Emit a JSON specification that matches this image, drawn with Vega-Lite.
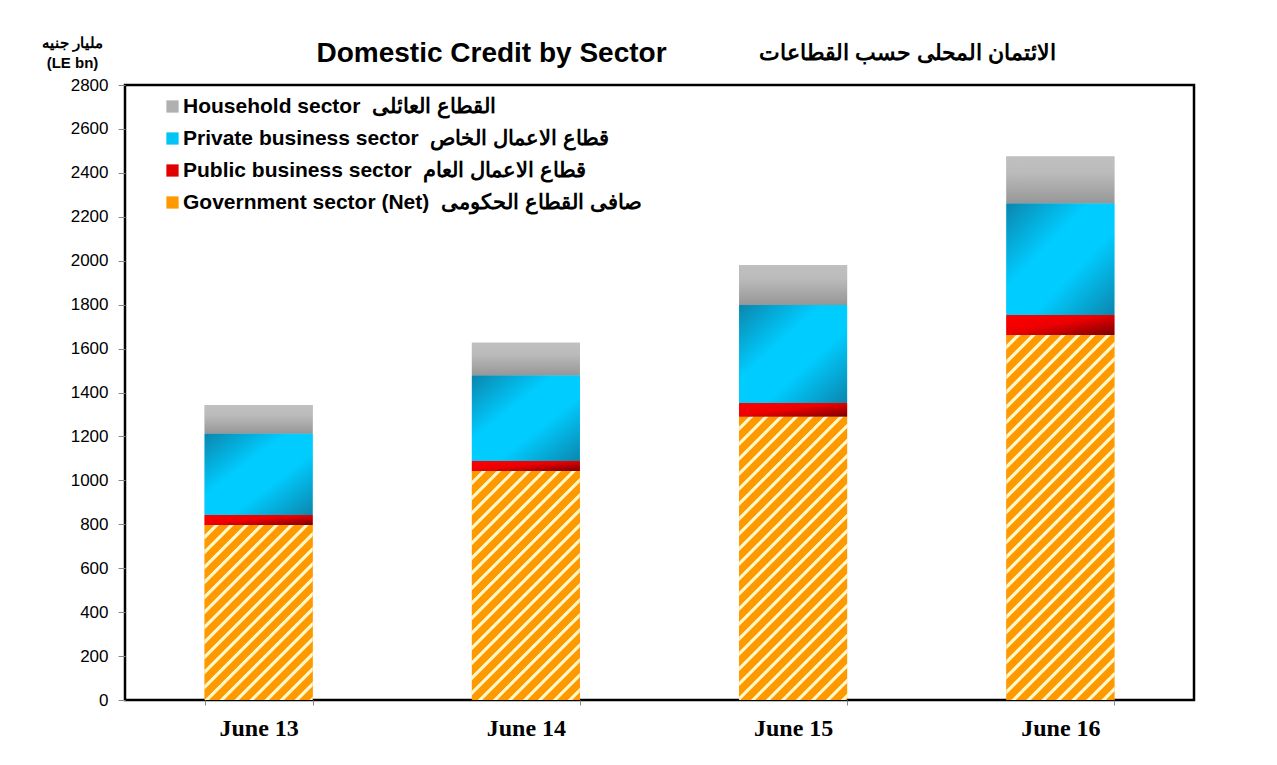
{
  "$schema": "https://vega.github.io/schema/vega-lite/v6.json",
  "autosize": {"type": "none"},
  "width": 1069,
  "height": 615,
  "padding": {"left": 125, "top": 85, "right": 83, "bottom": 65},
  "background": "#ffffff",
  "config": {
    "view": {"stroke": "#000000", "strokeWidth": 2.5},
    "axis": {"grid": false, "domain": false}
  },
  "data": {
    "values": [
      {"year": "June 13", "sector": "Government", "order": 1, "value": 797},
      {"year": "June 13", "sector": "Public", "order": 2, "value": 45},
      {"year": "June 13", "sector": "Private", "order": 3, "value": 370},
      {"year": "June 13", "sector": "Household", "order": 4, "value": 131},
      {"year": "June 14", "sector": "Government", "order": 1, "value": 1043},
      {"year": "June 14", "sector": "Public", "order": 2, "value": 45},
      {"year": "June 14", "sector": "Private", "order": 3, "value": 389},
      {"year": "June 14", "sector": "Household", "order": 4, "value": 150},
      {"year": "June 15", "sector": "Government", "order": 1, "value": 1290},
      {"year": "June 15", "sector": "Public", "order": 2, "value": 62},
      {"year": "June 15", "sector": "Private", "order": 3, "value": 446},
      {"year": "June 15", "sector": "Household", "order": 4, "value": 183},
      {"year": "June 16", "sector": "Government", "order": 1, "value": 1662},
      {"year": "June 16", "sector": "Public", "order": 2, "value": 91},
      {"year": "June 16", "sector": "Private", "order": 3, "value": 507},
      {"year": "June 16", "sector": "Household", "order": 4, "value": 214}
    ]
  },
  "transform": [
    {"stack": "value", "groupby": ["year"], "sort": [{"field": "order", "order": "ascending"}], "as": ["v0", "v1"]}
  ],
  "resolve": {"axis": {"x": "independent", "y": "independent"}},
  "layer": [
    {
      "mark": {"type": "bar"},
      "encoding": {
        "x": {
          "field": "year", "type": "nominal",
          "scale": {"paddingInner": 0.596, "paddingOuter": 0.298},
          "axis": {"orient": "bottom", "title": null, "labelAngle": 0, "labelFont": "Liberation Serif", "labelFontSize": 24, "labelFontWeight": "bold", "labelColor": "#000000", "labelBaseline": "alphabetic", "labelPadding": 30, "tickBand": "extent", "ticks": true, "tickSize": 5, "tickColor": "#888888", "domain": false}
        },
        "y": {
          "field": "v0", "type": "quantitative",
          "scale": {"domain": [0, 2800], "nice": false},
          "axis": {"values": [0, 200, 400, 600, 800, 1000, 1200, 1400, 1600, 1800, 2000, 2200, 2400, 2600, 2800], "format": "d", "title": ["مليار جنيه", "(LE bn)"], "titleAngle": 0, "titleAlign": "center", "titleBaseline": "alphabetic", "titleX": -53, "titleY": -38, "titleFont": "Liberation Sans", "titleFontSize": 15, "titleFontWeight": "bold", "titleLineHeight": 20, "titleColor": "#000000", "labelFont": "Liberation Sans", "labelFontSize": 17, "labelColor": "#000000", "labelPadding": 10, "tickSize": 7, "tickColor": "#888888", "domain": false, "grid": false}
        },
        "y2": {"field": "v1"},
        "color": {
          "field": "sector", "type": "nominal",
          "scale": {"domain": ["Household", "Private", "Public", "Government"], "range": ["#b0b0b0", "#00c4f5", "#e00000", "#ff9900"]},
          "legend": {
            "title": null, "orient": "none", "legendX": 37, "legendY": 11, "direction": "vertical",
            "symbolType": "square", "symbolSize": 150, "symbolStrokeWidth": 0,
            "labelFont": "Liberation Sans", "labelFontSize": 21, "labelFontWeight": "bold", "labelColor": "#000000",
            "labelOffset": 0, "rowPadding": 10, "padding": 0, "labelLimit": 0,
            "labelExpr": "datum.label === 'Household' ? 'Household sector\u00a0\u00a0\u202bالقطاع العائلى\u202c' : datum.label === 'Private' ? 'Private business sector\u00a0\u00a0\u202bقطاع الاعمال الخاص\u202c' : datum.label === 'Public' ? 'Public business sector\u00a0\u00a0\u202bقطاع الاعمال العام\u202c' : '\u202bصافى القطاع الحكومى\u00a0\u00a0\u202aGovernment sector (Net)\u202c\u202c'"
          }
        }
      }
    },
    {
      "transform": [{"filter": "datum.sector === 'Household'"}],
      "mark": {"type": "bar", "fill": {"gradient": "linear", "x1": 0, "y1": 0, "x2": 0, "y2": 1, "stops": [{"offset": 0, "color": "#c0c0c0"}, {"offset": 0.35, "color": "#bbbbbb"}, {"offset": 1, "color": "#969696"}]}},
      "encoding": {
        "x": {"field": "year", "type": "nominal", "axis": {"orient": "top", "title": "Domestic Credit by Sector", "labels": false, "ticks": false, "domain": false, "titleFont": "Liberation Sans", "titleFontSize": 28, "titleFontWeight": "bold", "titleColor": "#000000", "titleX": 366, "titleY": -24, "titleAlign": "center", "titleBaseline": "alphabetic"}},
        "y": {"field": "v0", "type": "quantitative", "axis": null},
        "y2": {"field": "v1"}
      }
    },
    {
      "transform": [{"filter": "datum.sector === 'Private'"}],
      "mark": {"type": "bar", "fill": {"gradient": "linear", "x1": 0, "y1": 0, "x2": 1, "y2": 1, "stops": [{"offset": 0, "color": "#0b86ad"}, {"offset": 0.38, "color": "#00ccff"}, {"offset": 0.62, "color": "#00ccff"}, {"offset": 1, "color": "#0b86ad"}]}},
      "encoding": {
        "x": {"field": "year", "type": "nominal", "axis": null},
        "y": {"field": "v0", "type": "quantitative", "axis": {"orient": "right", "title": "الائتمان المحلى حسب القطاعات", "labels": false, "ticks": false, "domain": false, "grid": false, "titleAngle": 0, "titleX": -287, "titleY": -26, "titleAlign": "center", "titleBaseline": "alphabetic", "titleFont": "Liberation Sans", "titleFontSize": 22, "titleFontWeight": "bold", "titleColor": "#000000"}},
        "y2": {"field": "v1"}
      }
    },
    {
      "transform": [{"filter": "datum.sector === 'Public'"}],
      "mark": {"type": "bar", "fill": {"gradient": "linear", "x1": 0, "y1": 0, "x2": 1, "y2": 1, "stops": [{"offset": 0, "color": "#ff0000"}, {"offset": 0.45, "color": "#ee0000"}, {"offset": 1, "color": "#7a0000"}]}},
      "encoding": {
        "x": {"field": "year", "type": "nominal", "axis": null},
        "y": {"field": "v0", "type": "quantitative", "axis": null},
        "y2": {"field": "v1"}
      }
    },
    {
      "transform": [{"filter": "datum.sector === 'Government' && datum.year === 'June 13'"}],
      "mark": {"type": "bar", "fill": {"gradient": "linear", "x1": 0, "y1": 0, "x2": 1.2251, "y2": 1.9859, "stops": [{"offset":0,"color":"#ff9900"},{"offset":0.01938,"color":"#ff9900"},{"offset":0.02188,"color":"#fff8c8"},{"offset":0.02875,"color":"#fff8c8"},{"offset":0.03125,"color":"#ff9900"},{"offset":0.05063,"color":"#ff9900"},{"offset":0.05313,"color":"#fff8c8"},{"offset":0.06,"color":"#fff8c8"},{"offset":0.0625,"color":"#ff9900"},{"offset":0.08188,"color":"#ff9900"},{"offset":0.08438,"color":"#fff8c8"},{"offset":0.09125,"color":"#fff8c8"},{"offset":0.09375,"color":"#ff9900"},{"offset":0.11313,"color":"#ff9900"},{"offset":0.11563,"color":"#fff8c8"},{"offset":0.1225,"color":"#fff8c8"},{"offset":0.125,"color":"#ff9900"},{"offset":0.14438,"color":"#ff9900"},{"offset":0.14688,"color":"#fff8c8"},{"offset":0.15375,"color":"#fff8c8"},{"offset":0.15625,"color":"#ff9900"},{"offset":0.17563,"color":"#ff9900"},{"offset":0.17813,"color":"#fff8c8"},{"offset":0.185,"color":"#fff8c8"},{"offset":0.1875,"color":"#ff9900"},{"offset":0.20688,"color":"#ff9900"},{"offset":0.20938,"color":"#fff8c8"},{"offset":0.21625,"color":"#fff8c8"},{"offset":0.21875,"color":"#ff9900"},{"offset":0.23813,"color":"#ff9900"},{"offset":0.24063,"color":"#fff8c8"},{"offset":0.2475,"color":"#fff8c8"},{"offset":0.25,"color":"#ff9900"},{"offset":0.26938,"color":"#ff9900"},{"offset":0.27188,"color":"#fff8c8"},{"offset":0.27875,"color":"#fff8c8"},{"offset":0.28125,"color":"#ff9900"},{"offset":0.30063,"color":"#ff9900"},{"offset":0.30313,"color":"#fff8c8"},{"offset":0.31,"color":"#fff8c8"},{"offset":0.3125,"color":"#ff9900"},{"offset":0.33188,"color":"#ff9900"},{"offset":0.33438,"color":"#fff8c8"},{"offset":0.34125,"color":"#fff8c8"},{"offset":0.34375,"color":"#ff9900"},{"offset":0.36313,"color":"#ff9900"},{"offset":0.36563,"color":"#fff8c8"},{"offset":0.3725,"color":"#fff8c8"},{"offset":0.375,"color":"#ff9900"},{"offset":0.39438,"color":"#ff9900"},{"offset":0.39688,"color":"#fff8c8"},{"offset":0.40375,"color":"#fff8c8"},{"offset":0.40625,"color":"#ff9900"},{"offset":0.42563,"color":"#ff9900"},{"offset":0.42813,"color":"#fff8c8"},{"offset":0.435,"color":"#fff8c8"},{"offset":0.4375,"color":"#ff9900"},{"offset":0.45688,"color":"#ff9900"},{"offset":0.45938,"color":"#fff8c8"},{"offset":0.46625,"color":"#fff8c8"},{"offset":0.46875,"color":"#ff9900"},{"offset":0.48813,"color":"#ff9900"},{"offset":0.49063,"color":"#fff8c8"},{"offset":0.4975,"color":"#fff8c8"},{"offset":0.5,"color":"#ff9900"},{"offset":0.51938,"color":"#ff9900"},{"offset":0.52188,"color":"#fff8c8"},{"offset":0.52875,"color":"#fff8c8"},{"offset":0.53125,"color":"#ff9900"},{"offset":0.55063,"color":"#ff9900"},{"offset":0.55313,"color":"#fff8c8"},{"offset":0.56,"color":"#fff8c8"},{"offset":0.5625,"color":"#ff9900"},{"offset":0.58188,"color":"#ff9900"},{"offset":0.58438,"color":"#fff8c8"},{"offset":0.59125,"color":"#fff8c8"},{"offset":0.59375,"color":"#ff9900"},{"offset":0.61313,"color":"#ff9900"},{"offset":0.61563,"color":"#fff8c8"},{"offset":0.6225,"color":"#fff8c8"},{"offset":0.625,"color":"#ff9900"},{"offset":0.64438,"color":"#ff9900"},{"offset":0.64688,"color":"#fff8c8"},{"offset":0.65375,"color":"#fff8c8"},{"offset":0.65625,"color":"#ff9900"},{"offset":0.67563,"color":"#ff9900"},{"offset":0.67813,"color":"#fff8c8"},{"offset":0.685,"color":"#fff8c8"},{"offset":0.6875,"color":"#ff9900"},{"offset":0.70688,"color":"#ff9900"},{"offset":0.70938,"color":"#fff8c8"},{"offset":0.71625,"color":"#fff8c8"},{"offset":0.71875,"color":"#ff9900"},{"offset":0.73813,"color":"#ff9900"},{"offset":0.74063,"color":"#fff8c8"},{"offset":0.7475,"color":"#fff8c8"},{"offset":0.75,"color":"#ff9900"},{"offset":0.76938,"color":"#ff9900"},{"offset":0.77188,"color":"#fff8c8"},{"offset":0.77875,"color":"#fff8c8"},{"offset":0.78125,"color":"#ff9900"},{"offset":0.80063,"color":"#ff9900"},{"offset":0.80313,"color":"#fff8c8"},{"offset":0.81,"color":"#fff8c8"},{"offset":0.8125,"color":"#ff9900"},{"offset":0.83188,"color":"#ff9900"},{"offset":0.83438,"color":"#fff8c8"},{"offset":0.84125,"color":"#fff8c8"},{"offset":0.84375,"color":"#ff9900"},{"offset":0.86313,"color":"#ff9900"},{"offset":0.86563,"color":"#fff8c8"},{"offset":0.8725,"color":"#fff8c8"},{"offset":0.875,"color":"#ff9900"},{"offset":0.89438,"color":"#ff9900"},{"offset":0.89688,"color":"#fff8c8"},{"offset":0.90375,"color":"#fff8c8"},{"offset":0.90625,"color":"#ff9900"},{"offset":0.92563,"color":"#ff9900"},{"offset":0.92813,"color":"#fff8c8"},{"offset":0.935,"color":"#fff8c8"},{"offset":0.9375,"color":"#ff9900"},{"offset":0.95688,"color":"#ff9900"},{"offset":0.95938,"color":"#fff8c8"},{"offset":0.96625,"color":"#fff8c8"},{"offset":0.96875,"color":"#ff9900"},{"offset":0.98813,"color":"#ff9900"},{"offset":0.99063,"color":"#fff8c8"},{"offset":0.9975,"color":"#fff8c8"},{"offset":1,"color":"#ff9900"}]}},
      "encoding": {
        "x": {"field": "year", "type": "nominal", "axis": null},
        "y": {"field": "v0", "type": "quantitative", "axis": null},
        "y2": {"field": "v1"}
      }
    },
    {
      "transform": [{"filter": "datum.sector === 'Government' && datum.year === 'June 14'"}],
      "mark": {"type": "bar", "fill": {"gradient": "linear", "x1": 0, "y1": 0, "x2": 0.8081, "y2": 1.714, "stops": [{"offset":0,"color":"#ff9900"},{"offset":0.01938,"color":"#ff9900"},{"offset":0.02188,"color":"#fff8c8"},{"offset":0.02875,"color":"#fff8c8"},{"offset":0.03125,"color":"#ff9900"},{"offset":0.05063,"color":"#ff9900"},{"offset":0.05313,"color":"#fff8c8"},{"offset":0.06,"color":"#fff8c8"},{"offset":0.0625,"color":"#ff9900"},{"offset":0.08188,"color":"#ff9900"},{"offset":0.08438,"color":"#fff8c8"},{"offset":0.09125,"color":"#fff8c8"},{"offset":0.09375,"color":"#ff9900"},{"offset":0.11313,"color":"#ff9900"},{"offset":0.11563,"color":"#fff8c8"},{"offset":0.1225,"color":"#fff8c8"},{"offset":0.125,"color":"#ff9900"},{"offset":0.14438,"color":"#ff9900"},{"offset":0.14688,"color":"#fff8c8"},{"offset":0.15375,"color":"#fff8c8"},{"offset":0.15625,"color":"#ff9900"},{"offset":0.17563,"color":"#ff9900"},{"offset":0.17813,"color":"#fff8c8"},{"offset":0.185,"color":"#fff8c8"},{"offset":0.1875,"color":"#ff9900"},{"offset":0.20688,"color":"#ff9900"},{"offset":0.20938,"color":"#fff8c8"},{"offset":0.21625,"color":"#fff8c8"},{"offset":0.21875,"color":"#ff9900"},{"offset":0.23813,"color":"#ff9900"},{"offset":0.24063,"color":"#fff8c8"},{"offset":0.2475,"color":"#fff8c8"},{"offset":0.25,"color":"#ff9900"},{"offset":0.26938,"color":"#ff9900"},{"offset":0.27188,"color":"#fff8c8"},{"offset":0.27875,"color":"#fff8c8"},{"offset":0.28125,"color":"#ff9900"},{"offset":0.30063,"color":"#ff9900"},{"offset":0.30313,"color":"#fff8c8"},{"offset":0.31,"color":"#fff8c8"},{"offset":0.3125,"color":"#ff9900"},{"offset":0.33188,"color":"#ff9900"},{"offset":0.33438,"color":"#fff8c8"},{"offset":0.34125,"color":"#fff8c8"},{"offset":0.34375,"color":"#ff9900"},{"offset":0.36313,"color":"#ff9900"},{"offset":0.36563,"color":"#fff8c8"},{"offset":0.3725,"color":"#fff8c8"},{"offset":0.375,"color":"#ff9900"},{"offset":0.39438,"color":"#ff9900"},{"offset":0.39688,"color":"#fff8c8"},{"offset":0.40375,"color":"#fff8c8"},{"offset":0.40625,"color":"#ff9900"},{"offset":0.42563,"color":"#ff9900"},{"offset":0.42813,"color":"#fff8c8"},{"offset":0.435,"color":"#fff8c8"},{"offset":0.4375,"color":"#ff9900"},{"offset":0.45688,"color":"#ff9900"},{"offset":0.45938,"color":"#fff8c8"},{"offset":0.46625,"color":"#fff8c8"},{"offset":0.46875,"color":"#ff9900"},{"offset":0.48813,"color":"#ff9900"},{"offset":0.49063,"color":"#fff8c8"},{"offset":0.4975,"color":"#fff8c8"},{"offset":0.5,"color":"#ff9900"},{"offset":0.51938,"color":"#ff9900"},{"offset":0.52188,"color":"#fff8c8"},{"offset":0.52875,"color":"#fff8c8"},{"offset":0.53125,"color":"#ff9900"},{"offset":0.55063,"color":"#ff9900"},{"offset":0.55313,"color":"#fff8c8"},{"offset":0.56,"color":"#fff8c8"},{"offset":0.5625,"color":"#ff9900"},{"offset":0.58188,"color":"#ff9900"},{"offset":0.58438,"color":"#fff8c8"},{"offset":0.59125,"color":"#fff8c8"},{"offset":0.59375,"color":"#ff9900"},{"offset":0.61313,"color":"#ff9900"},{"offset":0.61563,"color":"#fff8c8"},{"offset":0.6225,"color":"#fff8c8"},{"offset":0.625,"color":"#ff9900"},{"offset":0.64438,"color":"#ff9900"},{"offset":0.64688,"color":"#fff8c8"},{"offset":0.65375,"color":"#fff8c8"},{"offset":0.65625,"color":"#ff9900"},{"offset":0.67563,"color":"#ff9900"},{"offset":0.67813,"color":"#fff8c8"},{"offset":0.685,"color":"#fff8c8"},{"offset":0.6875,"color":"#ff9900"},{"offset":0.70688,"color":"#ff9900"},{"offset":0.70938,"color":"#fff8c8"},{"offset":0.71625,"color":"#fff8c8"},{"offset":0.71875,"color":"#ff9900"},{"offset":0.73813,"color":"#ff9900"},{"offset":0.74063,"color":"#fff8c8"},{"offset":0.7475,"color":"#fff8c8"},{"offset":0.75,"color":"#ff9900"},{"offset":0.76938,"color":"#ff9900"},{"offset":0.77188,"color":"#fff8c8"},{"offset":0.77875,"color":"#fff8c8"},{"offset":0.78125,"color":"#ff9900"},{"offset":0.80063,"color":"#ff9900"},{"offset":0.80313,"color":"#fff8c8"},{"offset":0.81,"color":"#fff8c8"},{"offset":0.8125,"color":"#ff9900"},{"offset":0.83188,"color":"#ff9900"},{"offset":0.83438,"color":"#fff8c8"},{"offset":0.84125,"color":"#fff8c8"},{"offset":0.84375,"color":"#ff9900"},{"offset":0.86313,"color":"#ff9900"},{"offset":0.86563,"color":"#fff8c8"},{"offset":0.8725,"color":"#fff8c8"},{"offset":0.875,"color":"#ff9900"},{"offset":0.89438,"color":"#ff9900"},{"offset":0.89688,"color":"#fff8c8"},{"offset":0.90375,"color":"#fff8c8"},{"offset":0.90625,"color":"#ff9900"},{"offset":0.92563,"color":"#ff9900"},{"offset":0.92813,"color":"#fff8c8"},{"offset":0.935,"color":"#fff8c8"},{"offset":0.9375,"color":"#ff9900"},{"offset":0.95688,"color":"#ff9900"},{"offset":0.95938,"color":"#fff8c8"},{"offset":0.96625,"color":"#fff8c8"},{"offset":0.96875,"color":"#ff9900"},{"offset":0.98813,"color":"#ff9900"},{"offset":0.99063,"color":"#fff8c8"},{"offset":0.9975,"color":"#fff8c8"},{"offset":1,"color":"#ff9900"}]}},
      "encoding": {
        "x": {"field": "year", "type": "nominal", "axis": null},
        "y": {"field": "v0", "type": "quantitative", "axis": null},
        "y2": {"field": "v1"}
      }
    },
    {
      "transform": [{"filter": "datum.sector === 'Government' && datum.year === 'June 15'"}],
      "mark": {"type": "bar", "fill": {"gradient": "linear", "x1": 0, "y1": 0, "x2": 0.564, "y2": 1.4793, "stops": [{"offset":0,"color":"#ff9900"},{"offset":0.01938,"color":"#ff9900"},{"offset":0.02188,"color":"#fff8c8"},{"offset":0.02875,"color":"#fff8c8"},{"offset":0.03125,"color":"#ff9900"},{"offset":0.05063,"color":"#ff9900"},{"offset":0.05313,"color":"#fff8c8"},{"offset":0.06,"color":"#fff8c8"},{"offset":0.0625,"color":"#ff9900"},{"offset":0.08188,"color":"#ff9900"},{"offset":0.08438,"color":"#fff8c8"},{"offset":0.09125,"color":"#fff8c8"},{"offset":0.09375,"color":"#ff9900"},{"offset":0.11313,"color":"#ff9900"},{"offset":0.11563,"color":"#fff8c8"},{"offset":0.1225,"color":"#fff8c8"},{"offset":0.125,"color":"#ff9900"},{"offset":0.14438,"color":"#ff9900"},{"offset":0.14688,"color":"#fff8c8"},{"offset":0.15375,"color":"#fff8c8"},{"offset":0.15625,"color":"#ff9900"},{"offset":0.17563,"color":"#ff9900"},{"offset":0.17813,"color":"#fff8c8"},{"offset":0.185,"color":"#fff8c8"},{"offset":0.1875,"color":"#ff9900"},{"offset":0.20688,"color":"#ff9900"},{"offset":0.20938,"color":"#fff8c8"},{"offset":0.21625,"color":"#fff8c8"},{"offset":0.21875,"color":"#ff9900"},{"offset":0.23813,"color":"#ff9900"},{"offset":0.24063,"color":"#fff8c8"},{"offset":0.2475,"color":"#fff8c8"},{"offset":0.25,"color":"#ff9900"},{"offset":0.26938,"color":"#ff9900"},{"offset":0.27188,"color":"#fff8c8"},{"offset":0.27875,"color":"#fff8c8"},{"offset":0.28125,"color":"#ff9900"},{"offset":0.30063,"color":"#ff9900"},{"offset":0.30313,"color":"#fff8c8"},{"offset":0.31,"color":"#fff8c8"},{"offset":0.3125,"color":"#ff9900"},{"offset":0.33188,"color":"#ff9900"},{"offset":0.33438,"color":"#fff8c8"},{"offset":0.34125,"color":"#fff8c8"},{"offset":0.34375,"color":"#ff9900"},{"offset":0.36313,"color":"#ff9900"},{"offset":0.36563,"color":"#fff8c8"},{"offset":0.3725,"color":"#fff8c8"},{"offset":0.375,"color":"#ff9900"},{"offset":0.39438,"color":"#ff9900"},{"offset":0.39688,"color":"#fff8c8"},{"offset":0.40375,"color":"#fff8c8"},{"offset":0.40625,"color":"#ff9900"},{"offset":0.42563,"color":"#ff9900"},{"offset":0.42813,"color":"#fff8c8"},{"offset":0.435,"color":"#fff8c8"},{"offset":0.4375,"color":"#ff9900"},{"offset":0.45688,"color":"#ff9900"},{"offset":0.45938,"color":"#fff8c8"},{"offset":0.46625,"color":"#fff8c8"},{"offset":0.46875,"color":"#ff9900"},{"offset":0.48813,"color":"#ff9900"},{"offset":0.49063,"color":"#fff8c8"},{"offset":0.4975,"color":"#fff8c8"},{"offset":0.5,"color":"#ff9900"},{"offset":0.51938,"color":"#ff9900"},{"offset":0.52188,"color":"#fff8c8"},{"offset":0.52875,"color":"#fff8c8"},{"offset":0.53125,"color":"#ff9900"},{"offset":0.55063,"color":"#ff9900"},{"offset":0.55313,"color":"#fff8c8"},{"offset":0.56,"color":"#fff8c8"},{"offset":0.5625,"color":"#ff9900"},{"offset":0.58188,"color":"#ff9900"},{"offset":0.58438,"color":"#fff8c8"},{"offset":0.59125,"color":"#fff8c8"},{"offset":0.59375,"color":"#ff9900"},{"offset":0.61313,"color":"#ff9900"},{"offset":0.61563,"color":"#fff8c8"},{"offset":0.6225,"color":"#fff8c8"},{"offset":0.625,"color":"#ff9900"},{"offset":0.64438,"color":"#ff9900"},{"offset":0.64688,"color":"#fff8c8"},{"offset":0.65375,"color":"#fff8c8"},{"offset":0.65625,"color":"#ff9900"},{"offset":0.67563,"color":"#ff9900"},{"offset":0.67813,"color":"#fff8c8"},{"offset":0.685,"color":"#fff8c8"},{"offset":0.6875,"color":"#ff9900"},{"offset":0.70688,"color":"#ff9900"},{"offset":0.70938,"color":"#fff8c8"},{"offset":0.71625,"color":"#fff8c8"},{"offset":0.71875,"color":"#ff9900"},{"offset":0.73813,"color":"#ff9900"},{"offset":0.74063,"color":"#fff8c8"},{"offset":0.7475,"color":"#fff8c8"},{"offset":0.75,"color":"#ff9900"},{"offset":0.76938,"color":"#ff9900"},{"offset":0.77188,"color":"#fff8c8"},{"offset":0.77875,"color":"#fff8c8"},{"offset":0.78125,"color":"#ff9900"},{"offset":0.80063,"color":"#ff9900"},{"offset":0.80313,"color":"#fff8c8"},{"offset":0.81,"color":"#fff8c8"},{"offset":0.8125,"color":"#ff9900"},{"offset":0.83188,"color":"#ff9900"},{"offset":0.83438,"color":"#fff8c8"},{"offset":0.84125,"color":"#fff8c8"},{"offset":0.84375,"color":"#ff9900"},{"offset":0.86313,"color":"#ff9900"},{"offset":0.86563,"color":"#fff8c8"},{"offset":0.8725,"color":"#fff8c8"},{"offset":0.875,"color":"#ff9900"},{"offset":0.89438,"color":"#ff9900"},{"offset":0.89688,"color":"#fff8c8"},{"offset":0.90375,"color":"#fff8c8"},{"offset":0.90625,"color":"#ff9900"},{"offset":0.92563,"color":"#ff9900"},{"offset":0.92813,"color":"#fff8c8"},{"offset":0.935,"color":"#fff8c8"},{"offset":0.9375,"color":"#ff9900"},{"offset":0.95688,"color":"#ff9900"},{"offset":0.95938,"color":"#fff8c8"},{"offset":0.96625,"color":"#fff8c8"},{"offset":0.96875,"color":"#ff9900"},{"offset":0.98813,"color":"#ff9900"},{"offset":0.99063,"color":"#fff8c8"},{"offset":0.9975,"color":"#fff8c8"},{"offset":1,"color":"#ff9900"}]}},
      "encoding": {
        "x": {"field": "year", "type": "nominal", "axis": null},
        "y": {"field": "v0", "type": "quantitative", "axis": null},
        "y2": {"field": "v1"}
      }
    },
    {
      "transform": [{"filter": "datum.sector === 'Government' && datum.year === 'June 16'"}],
      "mark": {"type": "bar", "fill": {"gradient": "linear", "x1": 0, "y1": 0, "x2": 0.3577, "y2": 1.2091, "stops": [{"offset":0,"color":"#ff9900"},{"offset":0.01938,"color":"#ff9900"},{"offset":0.02188,"color":"#fff8c8"},{"offset":0.02875,"color":"#fff8c8"},{"offset":0.03125,"color":"#ff9900"},{"offset":0.05063,"color":"#ff9900"},{"offset":0.05313,"color":"#fff8c8"},{"offset":0.06,"color":"#fff8c8"},{"offset":0.0625,"color":"#ff9900"},{"offset":0.08188,"color":"#ff9900"},{"offset":0.08438,"color":"#fff8c8"},{"offset":0.09125,"color":"#fff8c8"},{"offset":0.09375,"color":"#ff9900"},{"offset":0.11313,"color":"#ff9900"},{"offset":0.11563,"color":"#fff8c8"},{"offset":0.1225,"color":"#fff8c8"},{"offset":0.125,"color":"#ff9900"},{"offset":0.14438,"color":"#ff9900"},{"offset":0.14688,"color":"#fff8c8"},{"offset":0.15375,"color":"#fff8c8"},{"offset":0.15625,"color":"#ff9900"},{"offset":0.17563,"color":"#ff9900"},{"offset":0.17813,"color":"#fff8c8"},{"offset":0.185,"color":"#fff8c8"},{"offset":0.1875,"color":"#ff9900"},{"offset":0.20688,"color":"#ff9900"},{"offset":0.20938,"color":"#fff8c8"},{"offset":0.21625,"color":"#fff8c8"},{"offset":0.21875,"color":"#ff9900"},{"offset":0.23813,"color":"#ff9900"},{"offset":0.24063,"color":"#fff8c8"},{"offset":0.2475,"color":"#fff8c8"},{"offset":0.25,"color":"#ff9900"},{"offset":0.26938,"color":"#ff9900"},{"offset":0.27188,"color":"#fff8c8"},{"offset":0.27875,"color":"#fff8c8"},{"offset":0.28125,"color":"#ff9900"},{"offset":0.30063,"color":"#ff9900"},{"offset":0.30313,"color":"#fff8c8"},{"offset":0.31,"color":"#fff8c8"},{"offset":0.3125,"color":"#ff9900"},{"offset":0.33188,"color":"#ff9900"},{"offset":0.33438,"color":"#fff8c8"},{"offset":0.34125,"color":"#fff8c8"},{"offset":0.34375,"color":"#ff9900"},{"offset":0.36313,"color":"#ff9900"},{"offset":0.36563,"color":"#fff8c8"},{"offset":0.3725,"color":"#fff8c8"},{"offset":0.375,"color":"#ff9900"},{"offset":0.39438,"color":"#ff9900"},{"offset":0.39688,"color":"#fff8c8"},{"offset":0.40375,"color":"#fff8c8"},{"offset":0.40625,"color":"#ff9900"},{"offset":0.42563,"color":"#ff9900"},{"offset":0.42813,"color":"#fff8c8"},{"offset":0.435,"color":"#fff8c8"},{"offset":0.4375,"color":"#ff9900"},{"offset":0.45688,"color":"#ff9900"},{"offset":0.45938,"color":"#fff8c8"},{"offset":0.46625,"color":"#fff8c8"},{"offset":0.46875,"color":"#ff9900"},{"offset":0.48813,"color":"#ff9900"},{"offset":0.49063,"color":"#fff8c8"},{"offset":0.4975,"color":"#fff8c8"},{"offset":0.5,"color":"#ff9900"},{"offset":0.51938,"color":"#ff9900"},{"offset":0.52188,"color":"#fff8c8"},{"offset":0.52875,"color":"#fff8c8"},{"offset":0.53125,"color":"#ff9900"},{"offset":0.55063,"color":"#ff9900"},{"offset":0.55313,"color":"#fff8c8"},{"offset":0.56,"color":"#fff8c8"},{"offset":0.5625,"color":"#ff9900"},{"offset":0.58188,"color":"#ff9900"},{"offset":0.58438,"color":"#fff8c8"},{"offset":0.59125,"color":"#fff8c8"},{"offset":0.59375,"color":"#ff9900"},{"offset":0.61313,"color":"#ff9900"},{"offset":0.61563,"color":"#fff8c8"},{"offset":0.6225,"color":"#fff8c8"},{"offset":0.625,"color":"#ff9900"},{"offset":0.64438,"color":"#ff9900"},{"offset":0.64688,"color":"#fff8c8"},{"offset":0.65375,"color":"#fff8c8"},{"offset":0.65625,"color":"#ff9900"},{"offset":0.67563,"color":"#ff9900"},{"offset":0.67813,"color":"#fff8c8"},{"offset":0.685,"color":"#fff8c8"},{"offset":0.6875,"color":"#ff9900"},{"offset":0.70688,"color":"#ff9900"},{"offset":0.70938,"color":"#fff8c8"},{"offset":0.71625,"color":"#fff8c8"},{"offset":0.71875,"color":"#ff9900"},{"offset":0.73813,"color":"#ff9900"},{"offset":0.74063,"color":"#fff8c8"},{"offset":0.7475,"color":"#fff8c8"},{"offset":0.75,"color":"#ff9900"},{"offset":0.76938,"color":"#ff9900"},{"offset":0.77188,"color":"#fff8c8"},{"offset":0.77875,"color":"#fff8c8"},{"offset":0.78125,"color":"#ff9900"},{"offset":0.80063,"color":"#ff9900"},{"offset":0.80313,"color":"#fff8c8"},{"offset":0.81,"color":"#fff8c8"},{"offset":0.8125,"color":"#ff9900"},{"offset":0.83188,"color":"#ff9900"},{"offset":0.83438,"color":"#fff8c8"},{"offset":0.84125,"color":"#fff8c8"},{"offset":0.84375,"color":"#ff9900"},{"offset":0.86313,"color":"#ff9900"},{"offset":0.86563,"color":"#fff8c8"},{"offset":0.8725,"color":"#fff8c8"},{"offset":0.875,"color":"#ff9900"},{"offset":0.89438,"color":"#ff9900"},{"offset":0.89688,"color":"#fff8c8"},{"offset":0.90375,"color":"#fff8c8"},{"offset":0.90625,"color":"#ff9900"},{"offset":0.92563,"color":"#ff9900"},{"offset":0.92813,"color":"#fff8c8"},{"offset":0.935,"color":"#fff8c8"},{"offset":0.9375,"color":"#ff9900"},{"offset":0.95688,"color":"#ff9900"},{"offset":0.95938,"color":"#fff8c8"},{"offset":0.96625,"color":"#fff8c8"},{"offset":0.96875,"color":"#ff9900"},{"offset":0.98813,"color":"#ff9900"},{"offset":0.99063,"color":"#fff8c8"},{"offset":0.9975,"color":"#fff8c8"},{"offset":1,"color":"#ff9900"}]}},
      "encoding": {
        "x": {"field": "year", "type": "nominal", "axis": null},
        "y": {"field": "v0", "type": "quantitative", "axis": null},
        "y2": {"field": "v1"}
      }
    }
  ]
}
